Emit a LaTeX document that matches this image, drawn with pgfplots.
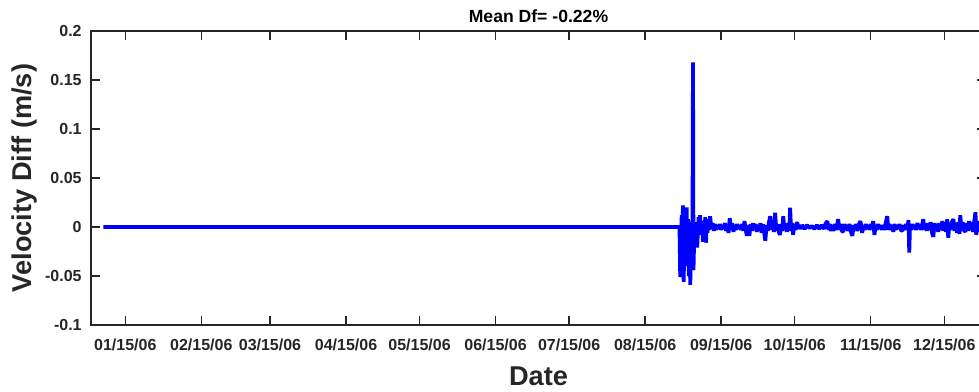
\documentclass[border=0pt]{standalone}
\usepackage{pgfplots}
\pgfplotsset{compat=1.18}
\usepackage{fontspec}
\setmainfont{Liberation Sans}
\definecolor{axgray}{RGB}{38,38,38}
\begin{document}
\begin{tikzpicture}[x=1pt,y=1pt]
\begin{axis}[
  at={(0,0)}, anchor=south west,
  scale only axis, width=447.5pt, height=147pt,
  xmin=0, xmax=365, ymin=-0.1, ymax=0.2,
  xtick={14,45,73,104,134,165,195,226,257,287,318,348},
  xticklabels={01/15/06,02/15/06,03/15/06,04/15/06,05/15/06,06/15/06,07/15/06,08/15/06,09/15/06,10/15/06,11/15/06,12/15/06},
  ytick={-0.1,-0.05,0,0.05,0.1,0.15,0.2},
  yticklabels={-0.1,-0.05,0,0.05,0.1,0.15,0.2},
  scaled y ticks=false,
  xtick pos=both, ytick pos=both,
  xticklabel pos=lower, yticklabel pos=left,
  tick align=inside, major tick length=4.5pt,
  tick style={axgray, line width=0.7pt},
  axis line style={axgray, line width=0.8pt},
  ticklabel style={font=\fontsize{8}{9}\selectfont\bfseries, text=axgray},
  xticklabel style={anchor=base, yshift=-12.7pt, inner sep=0pt},
  yticklabel style={anchor=east, xshift=-4.5pt, inner sep=0pt},
  title={Mean Df= -0.22\%},
  title style={font=\fontsize{8.8}{10}\selectfont\bfseries, text=black, at={(axis description cs:0.5,1)}, anchor=base, yshift=-1.5pt, inner sep=0pt},
  xlabel={Date}, ylabel={Velocity Diff (m/s)},
  label style={font=\fontsize{13.6}{15}\selectfont\bfseries, text=axgray},
  x label style={at={(axis description cs:0.5,0)}, anchor=base, yshift=-30pt, inner sep=0pt},
  y label style={at={(axis description cs:0,0.5)}, anchor=center, yshift=33.5pt, inner sep=0pt},
]
\addplot[color={rgb,1:red,0;green,0;blue,1}, line width=1.9pt, line join=bevel] coordinates {
(5,0) (240,0)
(240.3,-0.051) (240.6,-0.02) (240.9,0.012) (241.2,-0.03) (241.4,0.022) (241.7,-0.056)
(242.0,-0.01) (242.3,0.015) (242.6,-0.04) (242.9,0.02) (243.2,-0.03) (243.5,0.008)
(243.8,-0.05) (244.1,-0.02) (244.4,-0.059) (244.7,0.005) (245.0,-0.035) (245.3,0.0)
(245.5,0.168) (245.7,-0.044) (246.0,-0.01) (246.3,0.005) (246.6,-0.02) (246.9,0.004)
(247.2,-0.021) (247.5,-0.005) (247.8,0.01) (248.1,-0.008) (248.4,0.012) (248.7,-0.005)
(249.0,0.006) (249.3,-0.003) (249.6,-0.015) (249.9,0.004) (250.2,-0.006) (250.5,0.01)
(250.8,-0.016) (251.1,0.003) (251.4,-0.006) (251.7,0.008) (252.0,-0.003) (252.5,0.011)
(253.0,-0.002) (253.5,0.004) (254.0,-0.004) (254.5,0.003) (255,-0.003) (255.5,0.002)
(256,-0.002) (256.5,0.003) (257,-0.003) (257.5,0.002) (258,-0.002) (258.5,0.004)
(259,-0.004) (259.5,0.002) (260,-0.006) (260.5,0.009) (261,-0.003) (261.5,0.004)
(262,-0.005) (262.5,0.002) (263,-0.003) (263.5,0.003) (264,-0.002) (264.5,0.002)
(265,-0.003) (265.5,0.003) (266,-0.004) (266.5,0.006) (267,-0.003) (267.5,-0.009)
(268,0.002) (268.5,-0.009) (269,0.003) (269.5,-0.004) (270,0.004) (270.5,-0.003)
(271,0.003) (271.5,-0.005) (272,0.002) (272.5,-0.004) (273,0.004) (273.5,-0.006)
(274,0.003) (274.5,-0.005) (275,-0.014) (275.5,0.002) (276,-0.004) (276.5,0.005)
(277,0.011) (277.5,-0.003) (278,0.004) (278.5,-0.005) (279,0.0146) (279.5,-0.004)
(280,0.003) (280.5,-0.005) (281,-0.008) (281.5,0.003) (282,-0.004) (282.3,0.011)
(282.8,-0.003) (283.3,0.004) (283.8,-0.005) (284.3,0.003) (284.8,-0.004) (285.1,0.0197)
(285.5,-0.003) (286,0.004) (286.3,-0.008) (286.8,0.002) (287.3,-0.003) (288,0.005)
(288.5,-0.002) (289,0.002) (289.5,-0.002) (290,0.002) (291,-0.002) (292,0.002)
(293,-0.001) (294,0.001) (295,-0.002) (296,0.002) (297,-0.002) (298,0.002)
(299,-0.002) (299.5,0.003) (300.3,0.006) (300.8,-0.003) (301.3,0.003) (301.8,-0.004)
(302.3,0.002) (302.8,-0.004) (303.3,0.003) (303.8,-0.003) (304.3,0.002) (304.7,0.008)
(305.2,-0.003) (305.7,0.003) (306.2,-0.004) (306.8,-0.005) (307.3,0.003) (307.8,-0.003)
(308.3,0.002) (308.8,-0.004) (309.3,0.003) (309.8,-0.004) (310.5,-0.009) (311,0.002)
(311.5,-0.003) (312,0.003) (312.5,-0.004) (313,0.002) (313.8,0.006) (314.5,-0.006)
(315,0.002) (315.5,-0.003) (316,0.003) (316.5,-0.002) (317,0.002) (317.5,-0.003)
(318,0.003) (318.5,-0.002) (319,0.006) (319.5,-0.008) (320,0.002) (320.5,-0.003)
(321,0.003) (321.5,-0.002) (322,0.002) (322.5,-0.003) (323,0.002) (323.5,-0.003)
(324,0.003) (324.7,0.011) (325.2,-0.003) (325.7,0.003) (326.2,-0.003) (326.7,0.002)
(327.2,-0.005) (327.7,0.003) (328.2,-0.003) (328.7,0.002) (329.2,-0.002) (329.7,0.003)
(330.2,-0.003) (330.9,-0.004) (331.4,0.002) (331.9,-0.003) (332.4,0.003) (332.9,-0.002)
(333.4,0.007) (333.7,-0.026) (334.0,0.002) (334.5,-0.003) (335,0.003) (335.5,-0.002)
(336,0.002) (336.5,-0.003) (337,0.004) (337.5,-0.002) (338,0.003) (338.5,-0.003)
(339,0.002) (339.4,0.008) (339.9,-0.003) (340.4,0.003) (340.9,-0.004) (341.4,0.004)
(341.9,-0.003) (342.4,0.005) (342.9,-0.005) (343.5,-0.01) (344,0.004) (344.5,-0.004)
(345,0.003) (345.5,-0.005) (346,0.004) (346.5,-0.003) (347.2,0.006) (347.7,-0.004)
(348.2,0.005) (348.7,-0.005) (349.2,0.008) (349.6,-0.011) (350.1,0.004) (350.6,-0.003)
(351.1,0.005) (351.7,0.008) (352.2,-0.004) (352.7,0.004) (353.2,-0.006) (353.7,0.005)
(354.2,-0.007) (354.5,0.012) (355,-0.004) (355.5,0.005) (356,-0.003) (356.6,-0.005)
(357.1,0.004) (357.6,-0.004) (358.1,0.006) (358.6,-0.003) (359.1,0.005) (359.6,-0.005)
(360.1,0.004) (360.7,0.015) (361,-0.008) (361.5,0.004) (362,-0.005) (362.5,0.006)
(363,-0.004) (363.5,0.005) (364,-0.003)
};
\end{axis}
\pgfresetboundingbox
\path[use as bounding box] (-45.5pt,-33pt) rectangle (444pt,162.5pt);
\end{tikzpicture}
\end{document}
